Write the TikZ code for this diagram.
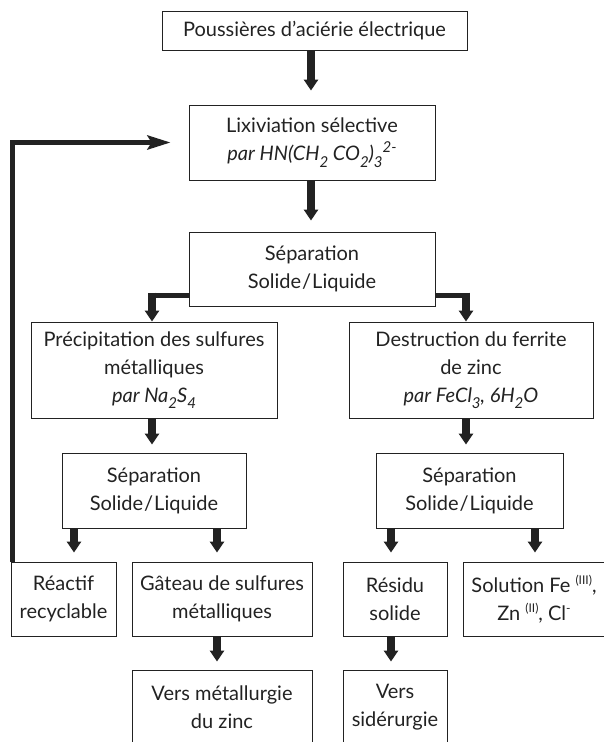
\documentclass[tikz,border=0pt]{standalone}
\usepackage{fontspec}
\setmainfont{Lato}
\usetikzlibrary{arrows.meta,calc}
\definecolor{ink}{HTML}{222222}
\newcommand{\dn}[1]{\raisebox{-0.32em}{\fontsize{15}{15}\selectfont #1}}
\newcommand{\upx}[1]{\raisebox{0.4em}{\fontsize{15}{15}\selectfont #1}}
\newcommand{\upr}[1]{\raisebox{0.42em}{\fontsize{12}{12}\selectfont #1}}
\begin{document}
\begin{tikzpicture}[x=1pt,y=-1pt,
  box/.style={draw=ink, line width=0.9pt, align=center, inner sep=0pt,
    font=\fontsize{20}{28}\selectfont, text=ink},
  flow/.style={line width=7.5pt, draw=ink, -{Triangle[length=11pt,width=14pt]}},
  hline/.style={line width=5pt, draw=ink},
  fb/.style={line width=4.5pt, draw=ink, -{Stealth[length=23pt,width=14pt,inset=4pt]}}]
\useasboundingbox (0,0) rectangle (604,742);
\newcommand{\SL}{Solide\kern1pt/\kern1pt Liquide}
\node[box, minimum width=305pt, minimum height=39pt] (p) at (314.5,30.5) {Poussières d’aciérie électrique};
\node[box, minimum width=246pt, minimum height=75pt] (l) at (312,142.5) {Lixiviation sélective\\\textit{par HN(CH\dn{2} CO\dn{2})\dn{3}\upx{2-}}};
\node[box, minimum width=246pt, minimum height=74pt] (s1) at (312,269) {Séparation\\\SL};
\node[box, minimum width=246pt, minimum height=96pt] (pr) at (154,370) {Précipitation des sulfures\\métalliques\\\textit{par Na\dn{2}S\dn{4}}};
\node[box, minimum width=244pt, minimum height=96pt] (ds) at (471,370) {Destruction du ferrite\\de zinc\\\textit{par FeCl\dn{3}, 6H\dn{2}O}};
\node[box, minimum width=184pt, minimum height=75pt] (s2) at (154,490.5) {Séparation\\\SL};
\node[box, minimum width=187pt, minimum height=75pt] (s3) at (469.5,490.5) {Séparation\\\SL};
\node[box, minimum width=105pt, minimum height=74pt] (re) at (63.5,599) {Réactif\\recyclable};
\node[box, minimum width=180pt, minimum height=74pt] (ga) at (222,599) {Gâteau de sulfures\\métalliques};
\node[box, minimum width=104pt, minimum height=74pt] (rs) at (395,599) {Résidu\\solide};
\node[box, minimum width=142pt, minimum height=74pt] (so) at (534,599) {Solution Fe \upr{(III)},\\Zn \upr{(II)}, Cl\upr{-}};
\node[box, minimum width=180pt, minimum height=75pt] (vm) at (222,707.5) {Vers métallurgie\\du zinc};
\node[box, minimum width=104pt, minimum height=75pt] (vs) at (395,707.5) {Vers\\sidérurgie};
% main arrows
\draw[flow] ($(p.south -| l.north)+(-1,0)$) -- ($(l.north)+(-1,-14)$);
\draw[flow] ($(l.south)+(-1,0)$) -- ($(s1.north)+(-1,-11)$);
% branches
\draw[hline] ($(s1.west)+(0.5,26)$) -- ($(s1.west -| pr.north)+(-5.75,26)$);
\draw[flow] ($(s1.west -| pr.north)+(-2,23.5)$) -- ($(pr.north)+(-2,0)$);
\draw[hline] ($(s1.east)+(-0.5,26)$) -- ($(s1.east -| ds.north)+(-1.25,26)$);
\draw[flow] ($(s1.east -| ds.north)+(-5,23.5)$) -- ($(ds.north)+(-5,0)$);
% second level
\draw[flow] ($(pr.south)+(-2,0)$) -- ($(s2.north)+(-2,-8)$);
\draw[flow] ($(ds.south)+(-5,0)$) -- ($(ds.south |- s3.north)+(-5,-8)$);
% third level
\draw[flow] ($(s2.south -| re.north)+(10.5,0)$) -- ($(re.north)+(10.5,-9)$);
\draw[flow] ($(s2.south -| ga.north)+(-5,0)$) -- ($(ga.north)+(-5,-9)$);
\draw[flow] ($(s3.south -| rs.north)+(-4,0)$) -- ($(rs.north)+(-4,-9)$);
\draw[flow] ($(s3.south -| so.north)+(1,0)$) -- ($(so.north)+(1,-9)$);
% fourth level
\draw[flow] ($(ga.south)+(-5,0)$) -- ($(vm.north)+(-5,-8)$);
\draw[flow] ($(rs.south)+(-4,0)$) -- ($(vs.north)+(-4,-8)$);
% feedback
\draw[fb] ($(re.north west)+(2,0)$) |- ($(l.west)+(-18,0)$);
\end{tikzpicture}
\end{document}
